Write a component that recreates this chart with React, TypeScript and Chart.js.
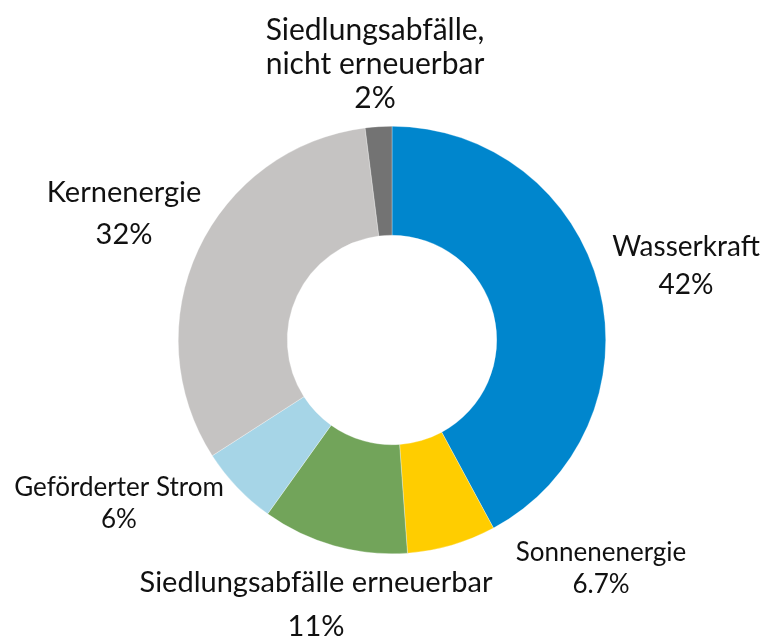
import React, { useEffect, useRef } from "react";
import { Chart, registerables } from "chart.js";

Chart.register(...registerables);

const categories = [
  "Wasserkraft",
  "Sonnenenergie",
  "Siedlungsabfälle erneuerbar",
  "Geförderter Strom",
  "Kernenergie",
  "Siedlungsabfälle, nicht erneuerbar",
];
const values = [42, 6.7, 11, 6, 32, 2];
const valueLabels = ["42%", "6.7%", "11%", "6%", "32%", "2%"];
const labelLines = [
  ["Wasserkraft"],
  ["Sonnenenergie"],
  ["Siedlungsabfälle erneuerbar"],
  ["Geförderter Strom"],
  ["Kernenergie"],
  ["Siedlungsabfälle,", "nicht erneuerbar"],
];
const colors = ["#0086CD", "#FFCD00", "#72A45A", "#A6D5E7", "#C5C3C2", "#737373"];

// label layout: offset of first line centre from doughnut centre, font size, line gap
const labelLayout = [
  { dx: 294, dy: -93, size: 28, gap: 38 },
  { dx: 209, dy: 213, size: 26, gap: 32 },
  { dx: -76, dy: 243, size: 29, gap: 44 },
  { dx: -273, dy: 148, size: 26, gap: 32 },
  { dx: -268, dy: -147, size: 29, gap: 42 },
  { dx: -17, dy: -310, size: 30, gap: 34 },
];

const FONT = "Lato, 'Noto Sans', sans-serif";

const labelPlugin = {
  id: "outerLabels",
  afterDraw(chart: any) {
    const meta = chart.getDatasetMeta(0);
    const arc = meta.data[0];
    if (!arc) return;
    const cx = arc.x;
    const cy = arc.y;
    const ctx = chart.ctx;
    ctx.save();
    ctx.fillStyle = "#111";
    ctx.textAlign = "center";
    ctx.textBaseline = "middle";
    labelLayout.forEach((l, i) => {
      ctx.font = `${l.size}px ${FONT}`;
      const lines = [...labelLines[i], valueLabels[i]];
      lines.forEach((t, j) => {
        ctx.fillText(t, cx + l.dx, cy + l.dy + j * l.gap);
      });
    });
    ctx.restore();
  },
};

export default function App() {
  const ref = useRef<HTMLCanvasElement | null>(null);
  useEffect(() => {
    if (!ref.current) return;
    const chart = new Chart(ref.current, {
      type: "doughnut",
      data: {
        labels: categories,
        datasets: [
          {
            data: values,
            backgroundColor: colors,
            borderColor: "rgba(255,255,255,0.6)",
            borderWidth: 0.5,
          },
        ],
      },
      options: {
        responsive: false,
        animation: false,
        cutout: "49%",
        rotation: 0,
        layout: { padding: { left: 178, right: 166, top: 126, bottom: 84 } },
        plugins: {
          legend: { display: false },
          tooltip: { enabled: false },
        },
      },
      plugins: [labelPlugin],
    });
    return () => chart.destroy();
  }, []);
  return (
    <div style={{ position: "fixed", left: 0, top: 0, width: 772, height: 638, background: "#fff" }}>
      <canvas ref={ref} width={772} height={638} />
    </div>
  );
}
